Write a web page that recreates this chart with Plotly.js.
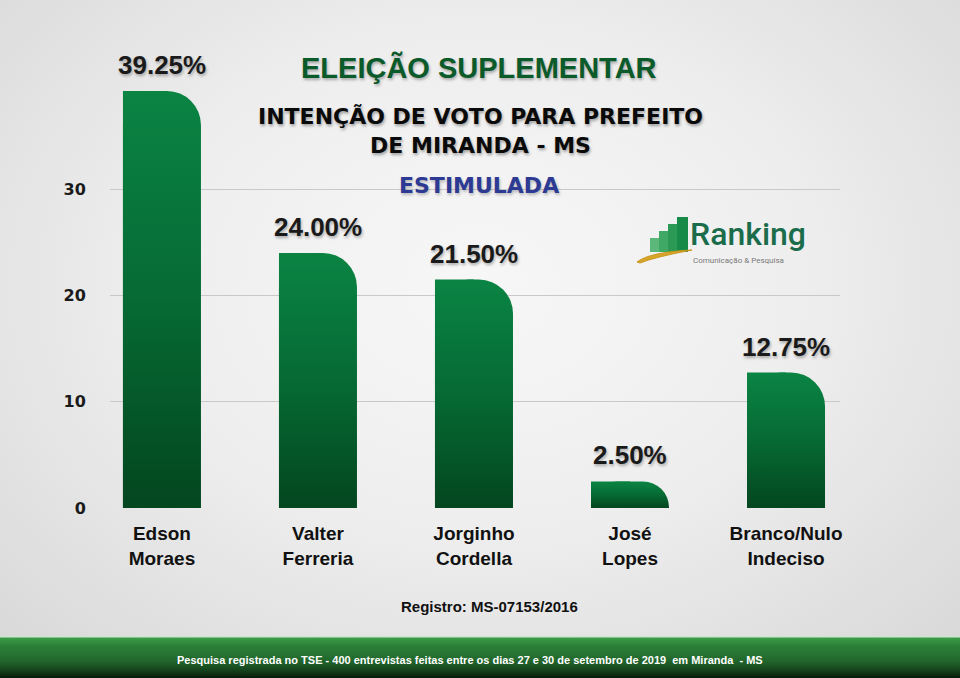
<!DOCTYPE html>
<html>
<head>
<meta charset="utf-8">
<script src="https://cdn.plot.ly/plotly-3.0.1.min.js"></script>
<style>
  html, body { margin: 0; padding: 0; width: 960px; height: 678px; overflow: hidden; }
  body {
    background: radial-gradient(ellipse 75% 80% at 50% 42%, #f7f7f7 0%, #eeeeee 45%, #d6d6d6 100%);
    position: relative;
  }
  #band {
    position: absolute; left: 0; top: 636px; width: 960px; height: 42px;
    background: linear-gradient(to bottom, #cfe6cf 0px, #cfe6cf 1px, #3c9c48 2px, #2a7d36 25%, #17502200 100%), linear-gradient(to bottom, #2a7d36 0%, #174d21 55%, #081a0b 100%);
  }
  #chart { position: absolute; left: 0; top: 0; width: 960px; height: 678px; }
</style>
</head>
<body>
<div id="band"></div>
<div id="chart"></div>
<script>
// ---- data ----
const categories = ['Edson<br>Moraes', 'Valter<br>Ferreria', 'Jorginho<br>Cordella', 'José<br>Lopes', 'Branco/Nulo<br>Indeciso'];
const values = [39.25, 24.00, 21.50, 2.50, 12.75];
const valueLabels = ['39.25%', '24.00%', '21.50%', '2.50%', '12.75%'];
const yTickVals = [0, 10, 20, 30];
const yTickText = ['0', '10', '20', '30'];

const titleMain = 'ELEIÇÃO SUPLEMENTAR';
const titleSub = 'INTENÇÃO DE VOTO PARA PREFEITO<br>DE MIRANDA - MS';
const titleType = 'ESTIMULADA';
const registro = 'Registro: MS-07153/2016';
const footer = 'Pesquisa registrada no TSE - 400 entrevistas feitas entre os dias 27 e 30 de setembro de 2019  em Miranda  - MS';

// ---- geometry helpers (pixel -> paper) ----
const L = 110, R = 120, T = 83, Bm = 170;
const W = 960 - L - R, H = 678 - T - Bm, BOT = 678 - Bm;
const px = x => (x - L) / W;
const py = y => (BOT - y) / H;

const green = '#077038';

const traceFull = {
  type: 'bar', x: categories, y: values, width: 0.5,
  marker: { color: green, cornerradius: 34, line: { width: 0 } },
  hoverinfo: 'skip', showlegend: false
};
const traceLeft = {
  type: 'bar', x: categories, y: values, width: 0.25, offset: -0.25,
  marker: { color: green, line: { width: 0 } },
  hoverinfo: 'skip', showlegend: false
};

const shadowDark = '1px 2px 3px rgba(0,0,0,0.3)';

const annotations = values.map((v, i) => ({
  x: categories[i], y: v, xref: 'x', yref: 'y',
  text: valueLabels[i], showarrow: false, xanchor: 'center', yanchor: 'bottom', yshift: 9,
  font: { family: 'Liberation Sans, Arial, sans-serif', size: 26, color: '#1a1a1a', weight: 700, shadow: shadowDark }
}));

function note(x, y, text, font, extra) {
  return Object.assign({ xref: 'paper', yref: 'paper', x: px(x), y: py(y), text: text, showarrow: false,
    xanchor: 'center', yanchor: 'middle', font: font }, extra || {});
}

annotations.push(
  note(479, 67, titleMain, { family: 'Liberation Sans, Arial, sans-serif', size: 29, weight: 700, color: '#0b5a2a', shadow: '1px 2px 3px rgba(0,0,0,0.3)' }),
  note(480, 131, titleSub, { family: 'DejaVu Sans, sans-serif', size: 22, weight: 700, color: '#0a0a0a', shadow: '1px 2px 3px rgba(0,0,0,0.35)' }),
  note(479, 185, titleType, { family: 'DejaVu Sans, sans-serif', size: 22, weight: 700, color: '#2d3a94', shadow: '1px 2px 3px rgba(0,0,0,0.25)' }),
  note(489, 606, registro, { family: 'Liberation Sans, Arial, sans-serif', size: 15, weight: 700, color: '#111' }),
  note(470, 660, footer, { family: 'Liberation Sans, Arial, sans-serif', size: 11, weight: 700, color: '#ffffff' }),
  // logo text
  note(688, 234, 'Ranking', { family: 'Roboto, sans-serif', size: 32, weight: 500, color: '#1a6c4b' }, { xanchor: 'left' }),
  note(691, 260, 'Comunicação & Pesquisa', { family: 'Roboto, sans-serif', size: 8, color: '#7a7a7a' }, { xanchor: 'left' })
);

// logo mark (decorative)
const logoBars = [
  { x0: 650, x1: 659, y0: 252, y1: 238, c: '#5cb87a' },
  { x0: 659, x1: 668, y0: 252, y1: 231, c: '#3ea864' },
  { x0: 668, x1: 677, y0: 252, y1: 224, c: '#2a9a55' },
  { x0: 677, x1: 688, y0: 252, y1: 217, c: '#178a48' }
];
const shapes = logoBars.map(b => ({
  type: 'rect', xref: 'paper', yref: 'paper', layer: 'above',
  x0: px(b.x0), x1: px(b.x1), y0: py(b.y0), y1: py(b.y1),
  fillcolor: b.c, line: { width: 0 }
}));
shapes.push({
  type: 'path', xref: 'paper', yref: 'paper', layer: 'above',
  path: `M ${px(637)} ${py(262)} Q ${px(650)} ${py(252)} ${px(692)} ${py(250)} Q ${px(655)} ${py(257)} ${px(640)} ${py(263)} Z`,
  fillcolor: '#d6a52a', line: { color: '#c9971e', width: 1 }
});

const layout = {
  width: 960, height: 678,
  margin: { l: L, r: R, t: T, b: Bm, pad: 0 },
  paper_bgcolor: 'rgba(0,0,0,0)', plot_bgcolor: 'rgba(0,0,0,0)',
  barmode: 'overlay', showlegend: false,
  xaxis: {
    type: 'category', range: [-0.333, 4.346], fixedrange: true,
    showgrid: false, zeroline: false, showline: false,
    ticks: 'outside', ticklen: 8, tickcolor: 'rgba(0,0,0,0)',
    tickfont: { family: 'Liberation Sans, Arial, sans-serif', size: 19, weight: 700, color: '#111' }
  },
  yaxis: {
    range: [0, 40], tickvals: yTickVals, ticktext: yTickText, fixedrange: true,
    showgrid: true, gridcolor: '#c9c9c9', gridwidth: 1, zeroline: false, showline: false,
    ticks: 'outside', ticklen: 20, tickcolor: 'rgba(0,0,0,0)',
    tickfont: { family: 'DejaVu Sans, sans-serif', size: 16, weight: 700, color: '#1a1a1a' }
  },
  annotations: annotations,
  shapes: shapes
};

Plotly.newPlot('chart', [traceFull, traceLeft], layout, { staticPlot: true, displayModeBar: false }).then(gd => {
  const svgNS = 'http://www.w3.org/2000/svg';
  const defs = gd.querySelector('svg.main-svg defs');
  const grad = document.createElementNS(svgNS, 'linearGradient');
  grad.setAttribute('id', 'barGrad');
  grad.setAttribute('x1', '0'); grad.setAttribute('y1', '0');
  grad.setAttribute('x2', '0'); grad.setAttribute('y2', '1');
  [['0', '#0a8443'], ['0.5', '#066a34'], ['1', '#03461f']].forEach(([o, c]) => {
    const s = document.createElementNS(svgNS, 'stop');
    s.setAttribute('offset', o); s.setAttribute('stop-color', c);
    grad.appendChild(s);
  });
  defs.appendChild(grad);
  gd.querySelectorAll('.barlayer .point path').forEach(p => { p.style.fill = 'url(#barGrad)'; });
});
</script>
</body>
</html>
